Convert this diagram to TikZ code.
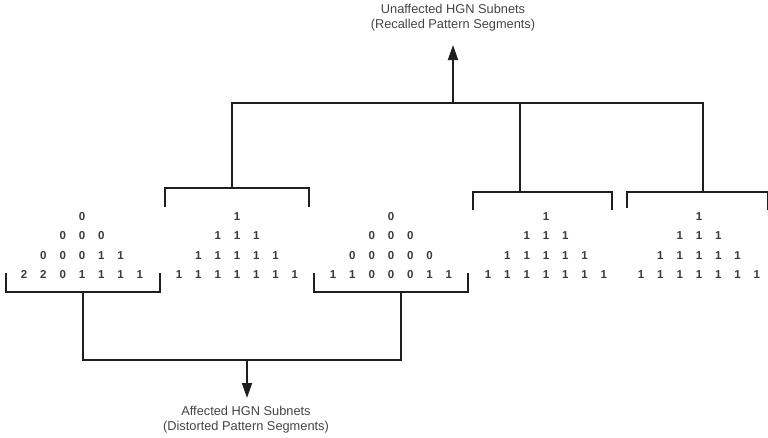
\documentclass[tikz,border=0pt]{standalone}
\usepackage{fontspec}
\setmainfont{Liberation Sans}
\usetikzlibrary{arrows.meta}
\definecolor{ink}{HTML}{1E1E1E}
\definecolor{txt}{HTML}{3A3A3A}
\definecolor{captxt}{HTML}{444444}

% one row of a digit pyramid: name, centre x, row number, digits
\newcommand\pyrrow[4]{%
  \foreach \d [count=\k] in {#4} {%
    \node[digit] (#1-#3-\k) at ({#2+(\k-#3)*19.3},{216.5+(#3-1)*19.47}) {\d};
  }%
}

\begin{document}
\begin{tikzpicture}[x=1pt,y=-1pt,
  wire/.style={draw=ink, line width=1.9pt, line join=miter},
  flow/.style={wire, -{Triangle[length=15pt,width=10pt]}},
  digit/.style={text=txt, font=\fontsize{11.5}{13}\selectfont\bfseries, inner sep=0pt},
  caption/.style={text=captxt, font=\fontsize{12.8}{15}\selectfont, align=center, inner sep=0pt}]
\useasboundingbox (0,0) rectangle (768,437);

% digit pyramids (pattern segments)
\pyrrow{t1}{82}{1}{0}
\pyrrow{t1}{82}{2}{0,0,0}
\pyrrow{t1}{82}{3}{0,0,0,1,1}
\pyrrow{t1}{82}{4}{2,2,0,1,1,1,1}

\pyrrow{t2}{237}{1}{1}
\pyrrow{t2}{237}{2}{1,1,1}
\pyrrow{t2}{237}{3}{1,1,1,1,1}
\pyrrow{t2}{237}{4}{1,1,1,1,1,1,1}

\pyrrow{t3}{391}{1}{0}
\pyrrow{t3}{391}{2}{0,0,0}
\pyrrow{t3}{391}{3}{0,0,0,0,0}
\pyrrow{t3}{391}{4}{1,1,0,0,0,1,1}

\pyrrow{t4}{546}{1}{1}
\pyrrow{t4}{546}{2}{1,1,1}
\pyrrow{t4}{546}{3}{1,1,1,1,1}
\pyrrow{t4}{546}{4}{1,1,1,1,1,1,1}

\pyrrow{t5}{699}{1}{1}
\pyrrow{t5}{699}{2}{1,1,1}
\pyrrow{t5}{699}{3}{1,1,1,1,1}
\pyrrow{t5}{699}{4}{1,1,1,1,1,1,1}

% captions
\node[caption] (unaff) at (453,18) {Unaffected HGN Subnets\\(Recalled Pattern Segments)};
\node[caption] (aff) at (246,419.5) {Affected HGN Subnets\\(Distorted Pattern Segments)};

% bracket stems and junction points
\coordinate (s1) at (83,292);
\coordinate (s3) at (401,292);
\coordinate (j1) at (83,360);
\coordinate (j3) at (401,360);
\coordinate (jd) at (247,360);
\coordinate (down) at (247,398);

\coordinate (s2) at (232,188);
\coordinate (s4) at (520,192);
\coordinate (s5) at (703,192);
\coordinate (j2) at (232,103);
\coordinate (j4) at (520,103);
\coordinate (j5) at (703,103);
\coordinate (ju) at (453,103);
\coordinate (up) at (453,45);

% brackets below the distorted segments
\draw[wire] (6,273) -- (6,292) -- (160,292) -- (160,273);
\draw[wire] (314,273) -- (314,292) -- (468,292) -- (468,273);
% brackets above the recalled segments
\draw[wire] (165,207) -- (165,188) -- (309,188) -- (309,207);
\draw[wire] (473,210) -- (473,192) -- (612,192) -- (612,210);
\draw[wire] (627,208) -- (627,192) -- (767.5,192) -- (767.5,210);

% affected subnets tree
\draw[wire] (s1) -- (j1) -- (j3) -- (s3);
\draw[flow] (jd) -- (down);

% unaffected subnets tree
\draw[wire] (s2) -- (j2) -- (j5) -- (s5);
\draw[wire] (j4) -- (s4);
\draw[flow] (ju) -- (up);
\end{tikzpicture}
\end{document}
